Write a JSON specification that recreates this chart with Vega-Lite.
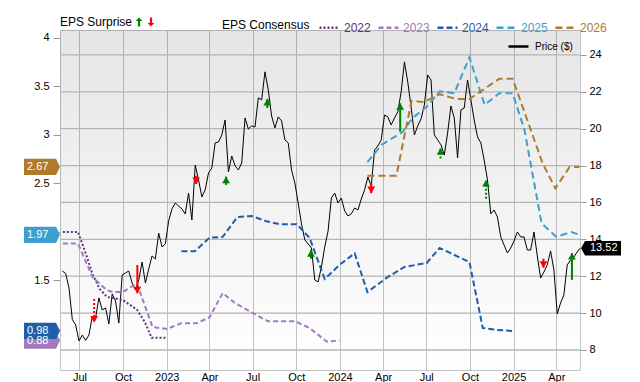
{
  "$schema": "https://vega.github.io/schema/vega-lite/v6.json",
  "width": 520,
  "height": 340,
  "autosize": {"type": "none"},
  "padding": {"left": 60, "top": 30, "right": 60, "bottom": 12},
  "background": "white",
  "config": {
    "font": "Liberation Sans",
    "view": {"stroke": "#c4c4c4"},
    "axis": {"domain": false, "labelFont": "Liberation Sans", "labelFontSize": 11, "labelColor": "#000000", "tickColor": "#999999", "gridColor": "#c4c4c4", "gridWidth": 1, "labelOverlap": false},
    "legend": {"labelFont": "Liberation Sans", "titleFont": "Liberation Sans", "labelFontSize": 12, "titleFontSize": 12, "titleFontWeight": "normal", "titleColor": "#000000", "labelColor": "#000000", "padding": 0, "offset": 0}
  },
  "datasets": {
    "eps": [
      {"date": "2022-05-27", "year": "2022", "eps": 2.00},
      {"date": "2022-06-28", "year": "2022", "eps": 2.00},
      {"date": "2022-07-12", "year": "2022", "eps": 1.81},
      {"date": "2022-07-29", "year": "2022", "eps": 1.56},
      {"date": "2022-08-13", "year": "2022", "eps": 1.41},
      {"date": "2022-08-28", "year": "2022", "eps": 1.33},
      {"date": "2022-09-30", "year": "2022", "eps": 1.30},
      {"date": "2022-10-30", "year": "2022", "eps": 1.20},
      {"date": "2022-11-16", "year": "2022", "eps": 1.07},
      {"date": "2022-11-30", "year": "2022", "eps": 0.91},
      {"date": "2023-01-01", "year": "2022", "eps": 0.91},
      {"date": "2022-05-27", "year": "2023", "eps": 1.88},
      {"date": "2022-06-28", "year": "2023", "eps": 1.88},
      {"date": "2022-07-29", "year": "2023", "eps": 1.53},
      {"date": "2022-08-28", "year": "2023", "eps": 1.40},
      {"date": "2022-09-09", "year": "2023", "eps": 1.38},
      {"date": "2022-09-30", "year": "2023", "eps": 1.38},
      {"date": "2022-10-30", "year": "2023", "eps": 1.47},
      {"date": "2022-12-02", "year": "2023", "eps": 1.02},
      {"date": "2023-01-01", "year": "2023", "eps": 1.00},
      {"date": "2023-02-01", "year": "2023", "eps": 1.06},
      {"date": "2023-03-05", "year": "2023", "eps": 1.06},
      {"date": "2023-04-01", "year": "2023", "eps": 1.12},
      {"date": "2023-04-29", "year": "2023", "eps": 1.37},
      {"date": "2023-05-24", "year": "2023", "eps": 1.27},
      {"date": "2023-07-01", "year": "2023", "eps": 1.165},
      {"date": "2023-08-02", "year": "2023", "eps": 1.08},
      {"date": "2023-09-28", "year": "2023", "eps": 1.08},
      {"date": "2023-10-29", "year": "2023", "eps": 1.01},
      {"date": "2023-12-04", "year": "2023", "eps": 0.87},
      {"date": "2023-12-31", "year": "2023", "eps": 0.88},
      {"date": "2023-02-01", "year": "2024", "eps": 1.80},
      {"date": "2023-03-01", "year": "2024", "eps": 1.80},
      {"date": "2023-04-01", "year": "2024", "eps": 1.94},
      {"date": "2023-04-29", "year": "2024", "eps": 1.95},
      {"date": "2023-05-30", "year": "2024", "eps": 2.155},
      {"date": "2023-06-29", "year": "2024", "eps": 2.165},
      {"date": "2023-07-30", "year": "2024", "eps": 2.11},
      {"date": "2023-08-27", "year": "2024", "eps": 2.08},
      {"date": "2023-10-02", "year": "2024", "eps": 2.08},
      {"date": "2023-10-29", "year": "2024", "eps": 1.94},
      {"date": "2023-11-30", "year": "2024", "eps": 1.515},
      {"date": "2023-12-31", "year": "2024", "eps": 1.66},
      {"date": "2024-02-01", "year": "2024", "eps": 1.78},
      {"date": "2024-02-28", "year": "2024", "eps": 1.38},
      {"date": "2024-04-08", "year": "2024", "eps": 1.526},
      {"date": "2024-05-16", "year": "2024", "eps": 1.64},
      {"date": "2024-07-02", "year": "2024", "eps": 1.68},
      {"date": "2024-07-29", "year": "2024", "eps": 1.835},
      {"date": "2024-09-30", "year": "2024", "eps": 1.69},
      {"date": "2024-10-28", "year": "2024", "eps": 1.01},
      {"date": "2024-11-26", "year": "2024", "eps": 0.99},
      {"date": "2024-12-30", "year": "2024", "eps": 0.98},
      {"date": "2024-02-28", "year": "2025", "eps": 2.72},
      {"date": "2024-03-29", "year": "2025", "eps": 2.90},
      {"date": "2024-05-12", "year": "2025", "eps": 3.03},
      {"date": "2024-06-02", "year": "2025", "eps": 3.175},
      {"date": "2024-07-02", "year": "2025", "eps": 3.29},
      {"date": "2024-07-29", "year": "2025", "eps": 3.45},
      {"date": "2024-08-29", "year": "2025", "eps": 3.43},
      {"date": "2024-09-30", "year": "2025", "eps": 3.80},
      {"date": "2024-11-01", "year": "2025", "eps": 3.31},
      {"date": "2024-12-02", "year": "2025", "eps": 3.43},
      {"date": "2024-12-30", "year": "2025", "eps": 3.43},
      {"date": "2025-01-24", "year": "2025", "eps": 3.05},
      {"date": "2025-03-01", "year": "2025", "eps": 2.09},
      {"date": "2025-04-01", "year": "2025", "eps": 1.95},
      {"date": "2025-05-03", "year": "2025", "eps": 2.00},
      {"date": "2025-05-20", "year": "2025", "eps": 1.97},
      {"date": "2024-02-28", "year": "2026", "eps": 2.58},
      {"date": "2024-04-29", "year": "2026", "eps": 2.58},
      {"date": "2024-05-31", "year": "2026", "eps": 3.35},
      {"date": "2024-06-27", "year": "2026", "eps": 3.34},
      {"date": "2024-07-29", "year": "2026", "eps": 3.42},
      {"date": "2024-09-02", "year": "2026", "eps": 3.37},
      {"date": "2024-09-30", "year": "2026", "eps": 3.37},
      {"date": "2024-12-02", "year": "2026", "eps": 3.58},
      {"date": "2024-12-30", "year": "2026", "eps": 3.58},
      {"date": "2025-03-03", "year": "2026", "eps": 2.71},
      {"date": "2025-03-30", "year": "2026", "eps": 2.45},
      {"date": "2025-04-29", "year": "2026", "eps": 2.67},
      {"date": "2025-05-20", "year": "2026", "eps": 2.67}
    ],
    "tags": [
      {"year": "2026", "eps": 2.67, "label": "2.67"},
      {"year": "2025", "eps": 1.97, "label": "1.97"},
      {"year": "2023", "eps": 0.88, "label": "0.88"},
      {"year": "2024", "eps": 0.98, "label": "0.98"}
    ],
    "gridvals": [{"price": 8}, {"price": 10}, {"price": 12}, {"price": 14}, {"price": 16}, {"price": 18}, {"price": 20}, {"price": 22}, {"price": 24}],
    "price": [
      {"date": "2022-05-26", "price": 12.28}, {"date": "2022-06-02", "price": 12.15}, {"date": "2022-06-09", "price": 11.36},
      {"date": "2022-06-16", "price": 9.65}, {"date": "2022-06-23", "price": 9.36}, {"date": "2022-06-30", "price": 8.49},
      {"date": "2022-07-07", "price": 8.81}, {"date": "2022-07-14", "price": 8.52}, {"date": "2022-07-21", "price": 8.81},
      {"date": "2022-07-28", "price": 9.82}, {"date": "2022-08-04", "price": 9.74}, {"date": "2022-08-11", "price": 10.82},
      {"date": "2022-08-18", "price": 10.17}, {"date": "2022-08-25", "price": 10.28}, {"date": "2022-09-01", "price": 9.41},
      {"date": "2022-09-08", "price": 11.04}, {"date": "2022-09-15", "price": 10.66}, {"date": "2022-09-22", "price": 9.46},
      {"date": "2022-09-29", "price": 12.07}, {"date": "2022-10-06", "price": 12.18}, {"date": "2022-10-13", "price": 12.28},
      {"date": "2022-10-20", "price": 11.63}, {"date": "2022-10-27", "price": 11.25}, {"date": "2022-11-03", "price": 11.80},
      {"date": "2022-11-10", "price": 12.77}, {"date": "2022-11-17", "price": 11.63}, {"date": "2022-11-24", "price": 12.39},
      {"date": "2022-12-01", "price": 13.10}, {"date": "2022-12-08", "price": 12.93}, {"date": "2022-12-15", "price": 14.34},
      {"date": "2022-12-22", "price": 13.59}, {"date": "2022-12-29", "price": 13.75}, {"date": "2023-01-05", "price": 15.00},
      {"date": "2023-01-12", "price": 15.65}, {"date": "2023-01-19", "price": 15.97}, {"date": "2023-01-26", "price": 15.81},
      {"date": "2023-02-02", "price": 15.65}, {"date": "2023-02-09", "price": 15.38}, {"date": "2023-02-16", "price": 16.51},
      {"date": "2023-02-23", "price": 15.05}, {"date": "2023-03-02", "price": 18.03}, {"date": "2023-03-09", "price": 17.22},
      {"date": "2023-03-16", "price": 16.30}, {"date": "2023-03-23", "price": 16.68}, {"date": "2023-03-30", "price": 17.60},
      {"date": "2023-04-06", "price": 17.87}, {"date": "2023-04-13", "price": 19.23}, {"date": "2023-04-20", "price": 19.28},
      {"date": "2023-04-27", "price": 19.66}, {"date": "2023-05-04", "price": 20.47}, {"date": "2023-05-11", "price": 17.65},
      {"date": "2023-05-18", "price": 18.52}, {"date": "2023-05-25", "price": 17.98}, {"date": "2023-06-01", "price": 17.76},
      {"date": "2023-06-08", "price": 18.14}, {"date": "2023-06-15", "price": 20.58}, {"date": "2023-06-22", "price": 19.98},
      {"date": "2023-06-29", "price": 20.15}, {"date": "2023-07-06", "price": 20.09}, {"date": "2023-07-13", "price": 21.67},
      {"date": "2023-07-20", "price": 21.56}, {"date": "2023-07-27", "price": 23.08}, {"date": "2023-08-03", "price": 22.10},
      {"date": "2023-08-10", "price": 20.69}, {"date": "2023-08-17", "price": 20.04}, {"date": "2023-08-24", "price": 20.64},
      {"date": "2023-08-31", "price": 20.42}, {"date": "2023-09-07", "price": 19.39}, {"date": "2023-09-14", "price": 19.23},
      {"date": "2023-09-21", "price": 17.76}, {"date": "2023-09-28", "price": 17.06}, {"date": "2023-10-05", "price": 15.97},
      {"date": "2023-10-12", "price": 14.83}, {"date": "2023-10-19", "price": 13.97}, {"date": "2023-10-26", "price": 13.75},
      {"date": "2023-11-02", "price": 13.53}, {"date": "2023-11-09", "price": 11.80}, {"date": "2023-11-16", "price": 11.69},
      {"date": "2023-11-23", "price": 12.50}, {"date": "2023-11-30", "price": 13.59}, {"date": "2023-12-07", "price": 14.45},
      {"date": "2023-12-14", "price": 16.24}, {"date": "2023-12-21", "price": 16.51}, {"date": "2023-12-28", "price": 15.97},
      {"date": "2024-01-04", "price": 16.24}, {"date": "2024-01-11", "price": 15.54}, {"date": "2024-01-18", "price": 15.27},
      {"date": "2024-01-25", "price": 15.38}, {"date": "2024-02-01", "price": 15.70}, {"date": "2024-02-08", "price": 15.59},
      {"date": "2024-02-15", "price": 16.19}, {"date": "2024-02-22", "price": 16.68}, {"date": "2024-02-29", "price": 17.38},
      {"date": "2024-03-07", "price": 16.89}, {"date": "2024-03-14", "price": 18.85}, {"date": "2024-03-21", "price": 19.06},
      {"date": "2024-03-28", "price": 19.39}, {"date": "2024-04-04", "price": 20.74}, {"date": "2024-04-11", "price": 20.64},
      {"date": "2024-04-18", "price": 20.20}, {"date": "2024-04-25", "price": 20.58}, {"date": "2024-05-02", "price": 20.91},
      {"date": "2024-05-09", "price": 21.99}, {"date": "2024-05-16", "price": 23.62}, {"date": "2024-05-23", "price": 22.53},
      {"date": "2024-05-30", "price": 21.18}, {"date": "2024-06-06", "price": 19.66}, {"date": "2024-06-13", "price": 20.15},
      {"date": "2024-06-20", "price": 20.53}, {"date": "2024-06-27", "price": 21.29}, {"date": "2024-07-04", "price": 22.91},
      {"date": "2024-07-11", "price": 22.64}, {"date": "2024-07-18", "price": 19.66}, {"date": "2024-07-25", "price": 19.39},
      {"date": "2024-08-01", "price": 19.12}, {"date": "2024-08-08", "price": 18.57}, {"date": "2024-08-15", "price": 19.77},
      {"date": "2024-08-22", "price": 21.23}, {"date": "2024-08-29", "price": 20.58}, {"date": "2024-09-05", "price": 18.41},
      {"date": "2024-09-12", "price": 21.02}, {"date": "2024-09-19", "price": 21.12}, {"date": "2024-09-26", "price": 22.64},
      {"date": "2024-10-03", "price": 21.56}, {"date": "2024-10-10", "price": 20.47}, {"date": "2024-10-17", "price": 19.55},
      {"date": "2024-10-24", "price": 19.23}, {"date": "2024-10-31", "price": 18.30}, {"date": "2024-11-07", "price": 17.22},
      {"date": "2024-11-14", "price": 15.38}, {"date": "2024-11-21", "price": 15.59}, {"date": "2024-11-28", "price": 15.21},
      {"date": "2024-12-05", "price": 14.13}, {"date": "2024-12-12", "price": 13.69}, {"date": "2024-12-19", "price": 13.26},
      {"date": "2024-12-26", "price": 13.53}, {"date": "2025-01-02", "price": 13.91}, {"date": "2025-01-09", "price": 14.40},
      {"date": "2025-01-16", "price": 14.13}, {"date": "2025-01-23", "price": 14.13}, {"date": "2025-01-30", "price": 13.42},
      {"date": "2025-02-06", "price": 13.42}, {"date": "2025-02-13", "price": 14.40}, {"date": "2025-02-20", "price": 13.10},
      {"date": "2025-02-27", "price": 11.90}, {"date": "2025-03-06", "price": 12.23}, {"date": "2025-03-13", "price": 12.61},
      {"date": "2025-03-20", "price": 13.37}, {"date": "2025-03-27", "price": 12.34}, {"date": "2025-04-03", "price": 9.95},
      {"date": "2025-04-10", "price": 10.55}, {"date": "2025-04-17", "price": 10.98}, {"date": "2025-04-24", "price": 12.61},
      {"date": "2025-05-01", "price": 12.88}, {"date": "2025-05-08", "price": 13.04}, {"date": "2025-05-15", "price": 13.31},
      {"date": "2025-05-21", "price": 13.52}
    ],
    "surprise": [
      {"date": "2022-08-01", "from": 10.77, "to": 9.48, "dir": "down", "style": "dotted"},
      {"date": "2022-10-31", "from": 12.61, "to": 11.07, "dir": "down", "style": "solid"},
      {"date": "2023-03-04", "from": 17.45, "to": 17.0, "dir": "down", "style": "solid"},
      {"date": "2023-05-06", "from": 16.95, "to": 17.4, "dir": "up", "style": "solid"},
      {"date": "2023-08-01", "from": 21.12, "to": 21.62, "dir": "up", "style": "solid"},
      {"date": "2023-11-01", "from": 12.95, "to": 13.42, "dir": "up", "style": "solid"},
      {"date": "2024-03-07", "from": 17.05, "to": 16.5, "dir": "down", "style": "solid"},
      {"date": "2024-05-07", "from": 19.84, "to": 21.38, "dir": "up", "style": "solid"},
      {"date": "2024-07-31", "from": 18.38, "to": 18.94, "dir": "up", "style": "dotted"},
      {"date": "2024-11-04", "from": 16.2, "to": 17.22, "dir": "up", "style": "dotted"},
      {"date": "2025-03-05", "from": 12.95, "to": 12.46, "dir": "down", "style": "solid"},
      {"date": "2025-05-04", "from": 11.8, "to": 13.26, "dir": "up", "style": "solid"}
    ],
    "last": [{"price": 13.52, "label": "13.52"}]
  },
  "layer": [
    {
      "data": {"values": [{"panel": "plot"}]},
      "mark": {"type": "rect", "fill": {"gradient": "linear", "x1": 0, "y1": 0, "x2": 0, "y2": 1, "stops": [{"offset": 0, "color": "rgba(0,0,0,0.1)"}, {"offset": 1, "color": "rgba(0,0,0,0)"}]}},
      "encoding": {"x": {"value": 0}, "x2": {"value": 520}, "y": {"value": 0}, "y2": {"value": 340}}
    },
    {
      "layer": [
        {
          "data": {"name": "gridvals"},
          "mark": {"type": "rule", "color": "#b4b4b4", "strokeWidth": 1.3, "opacity": 1},
          "encoding": {
            "x": {"datum": {"year": 2022, "month": "may", "date": 21}, "type": "temporal", "axis": {"title": null}},
            "x2": {"datum": {"year": 2025, "month": "may", "date": 21}},
            "y": {"field": "price", "type": "quantitative", "axis": {"title": null}}
          }
        },
        {
          "data": {"name": "price"},
          "mark": {"type": "line", "strokeWidth": 1},
          "encoding": {
            "x": {"field": "date", "type": "temporal", "axis": {"title": null}},
            "y": {"field": "price", "type": "quantitative",
              "scale": {"domain": [6.915, 25.35], "nice": false, "zero": false},
              "axis": {"orient": "right", "title": null, "grid": false, "values": [8, 10, 12, 14, 16, 18, 20, 22, 24], "tickSize": 6, "labelPadding": 3}},
            "stroke": {"datum": "Price ($)", "type": "nominal", "scale": {"range": ["#000000"]},
              "legend": {"title": null, "orient": "none", "legendX": 447, "legendY": 5, "symbolType": "stroke", "symbolSize": 400, "symbolStrokeWidth": 2.5, "labelFontSize": 10, "labelOffset": 5,
                "encode": {"symbols": {"update": {"stroke": {"value": "#666666"}}}}}}
          }
        }
      ]
    },
    {
      "layer": [
        {
          "data": {"name": "eps"},
          "mark": {"type": "line", "strokeWidth": 2},
          "encoding": {
            "x": {"field": "date", "type": "temporal",
              "scale": {"domain": [{"year": 2022, "month": "may", "date": 21}, {"year": 2025, "month": "may", "date": 21}]},
              "axis": {"title": null, "grid": true, "ticks": false, "labelPadding": 1, "labelFlush": false,
                "values": [{"year": 2022, "month": "jul", "date": 1}, {"year": 2022, "month": "oct", "date": 1}, {"year": 2023, "month": "jan", "date": 1}, {"year": 2023, "month": "apr", "date": 1}, {"year": 2023, "month": "jul", "date": 1}, {"year": 2023, "month": "oct", "date": 1}, {"year": 2024, "month": "jan", "date": 1}, {"year": 2024, "month": "apr", "date": 1}, {"year": 2024, "month": "jul", "date": 1}, {"year": 2024, "month": "oct", "date": 1}, {"year": 2025, "month": "jan", "date": 1}, {"year": 2025, "month": "apr", "date": 1}],
                "labelExpr": "month(datum.value) == 0 ? timeFormat(datum.value, '%Y') : timeFormat(datum.value, '%b')"}},
            "y": {"field": "eps", "type": "quantitative",
              "scale": {"domain": [0.577, 4.082], "nice": false, "zero": false},
              "axis": {"orient": "left", "title": null, "grid": false, "values": [1, 1.5, 2, 2.5, 3, 3.5, 4], "format": "~g", "tickSize": 7, "labelPadding": 4}},
            "color": {"field": "year", "type": "nominal",
              "scale": {"domain": ["2022", "2023", "2024", "2025", "2026"], "range": ["#5e3286", "#a27bbf", "#1f5fa9", "#3d9fcd", "#b07a2b"]},
              "legend": {"title": "EPS Consensus", "orient": "none", "legendX": 162, "legendY": -14, "direction": "horizontal", "titleOrient": "left", "titlePadding": 8, "symbolType": "stroke", "symbolSize": 400, "symbolStrokeWidth": 2.5, "labelOffset": 3, "columnPadding": 2,
                "encode": {
                  "labels": {"update": {"fill": {"signal": "datum.value == '2022' ? '#5e3286' : datum.value == '2023' ? '#a27bbf' : datum.value == '2024' ? '#1f5fa9' : datum.value == '2025' ? '#3d9fcd' : '#b07a2b'"}}},
                  "symbols": {"update": {"strokeDash": {"signal": "datum.value == '2022' ? [2, 2] : datum.value == '2023' ? [5, 3] : datum.value == '2024' ? [6, 3] : [7, 4]"}, "strokeWidth": {"value": 2.5}}}
                }}},
            "strokeDash": {"field": "year", "type": "nominal",
              "scale": {"domain": ["2022", "2023", "2024", "2025", "2026"], "range": [[2, 2], [5, 3], [6, 3], [7, 4], [7, 4]]},
              "legend": null}
          }
        },
        {
          "data": {"name": "tags"},
          "mark": {"type": "point", "filled": true, "opacity": 1, "size": 1296, "shape": "M-1,-0.45L0.78,-0.45L1,0L0.78,0.45L-1,0.45Z"},
          "encoding": {
            "x": {"value": -18},
            "y": {"field": "eps", "type": "quantitative", "axis": {"title": null}},
            "color": {"field": "year", "type": "nominal", "legend": null}
          }
        },
        {
          "data": {"name": "tags"},
          "mark": {"type": "text", "align": "left", "baseline": "middle", "color": "#ffffff", "fontSize": 11, "font": "Liberation Sans"},
          "encoding": {
            "x": {"value": -33},
            "y": {"field": "eps", "type": "quantitative", "axis": {"title": null}},
            "text": {"field": "label"}
          }
        }
      ]
    },
    {
      "layer": [
        {
          "data": {"name": "surprise"},
          "transform": [{"filter": "datum.style == 'solid'"}],
          "mark": {"type": "rule", "strokeWidth": 2},
          "encoding": {
            "x": {"field": "date", "type": "temporal", "axis": {"title": null}},
            "y": {"field": "from", "type": "quantitative", "scale": {"domain": [6.915, 25.35], "nice": false, "zero": false}, "axis": null},
            "y2": {"field": "to"},
            "color": {"field": "dir", "type": "nominal", "scale": {"domain": ["up", "down"], "range": ["#008000", "#ff0000"]},
              "legend": {"title": "EPS Surprise", "orient": "none", "legendX": 0, "legendY": -14, "direction": "horizontal", "titleOrient": "left", "titlePadding": 0, "labelExpr": "''", "labelOffset": 0, "columnPadding": -4, "symbolSize": 81,
                "encode": {"symbols": {"update": {
                  "shape": {"signal": "datum.value == 'up' ? 'M0,-1L0.75,-0.2L0.25,-0.2L0.25,1L-0.25,1L-0.25,-0.2L-0.75,-0.2Z' : 'M0,1L0.75,0.2L0.25,0.2L0.25,-1L-0.25,-1L-0.25,0.2L-0.75,0.2Z'"},
                  "fill": {"signal": "datum.value == 'up' ? '#008000' : '#ff0000'"},
                  "strokeWidth": {"value": 0}, "opacity": {"value": 1}}}}}}
          }
        },
        {
          "data": {"name": "surprise"},
          "transform": [{"filter": "datum.style == 'dotted'"}],
          "mark": {"type": "rule", "strokeWidth": 2, "strokeDash": [2, 2]},
          "encoding": {
            "x": {"field": "date", "type": "temporal", "axis": {"title": null}},
            "y": {"field": "from", "type": "quantitative", "axis": null},
            "y2": {"field": "to"},
            "color": {"field": "dir", "type": "nominal", "legend": null}
          }
        },
        {
          "data": {"name": "surprise"},
          "transform": [{"filter": "datum.dir == 'up'"}],
          "mark": {"type": "point", "filled": true, "opacity": 1, "size": 144, "shape": "M0,0L0.65,1.1L-0.65,1.1Z"},
          "encoding": {
            "x": {"field": "date", "type": "temporal", "axis": {"title": null}},
            "y": {"field": "to", "type": "quantitative", "axis": null},
            "color": {"field": "dir", "type": "nominal", "legend": null}
          }
        },
        {
          "data": {"name": "surprise"},
          "transform": [{"filter": "datum.dir == 'down'"}],
          "mark": {"type": "point", "filled": true, "opacity": 1, "size": 144, "shape": "M0,0L0.65,-1.1L-0.65,-1.1Z"},
          "encoding": {
            "x": {"field": "date", "type": "temporal", "axis": {"title": null}},
            "y": {"field": "to", "type": "quantitative", "axis": null},
            "color": {"field": "dir", "type": "nominal", "legend": null}
          }
        },
        {
          "data": {"name": "last"},
          "mark": {"type": "point", "filled": true, "opacity": 1, "size": 1600, "color": "#000000", "shape": "M1,-0.36L-0.8,-0.36L-1,0L-0.8,0.36L1,0.36Z"},
          "encoding": {
            "x": {"value": 541},
            "y": {"field": "price", "type": "quantitative", "axis": null}
          }
        },
        {
          "data": {"name": "last"},
          "mark": {"type": "text", "align": "left", "baseline": "middle", "color": "#ffffff", "fontSize": 11, "font": "Liberation Sans"},
          "encoding": {
            "x": {"value": 530},
            "y": {"field": "price", "type": "quantitative", "axis": null},
            "text": {"field": "label"}
          }
        }
      ]
    }
  ],
  "resolve": {"scale": {"y": "independent", "color": "independent"}}
}
